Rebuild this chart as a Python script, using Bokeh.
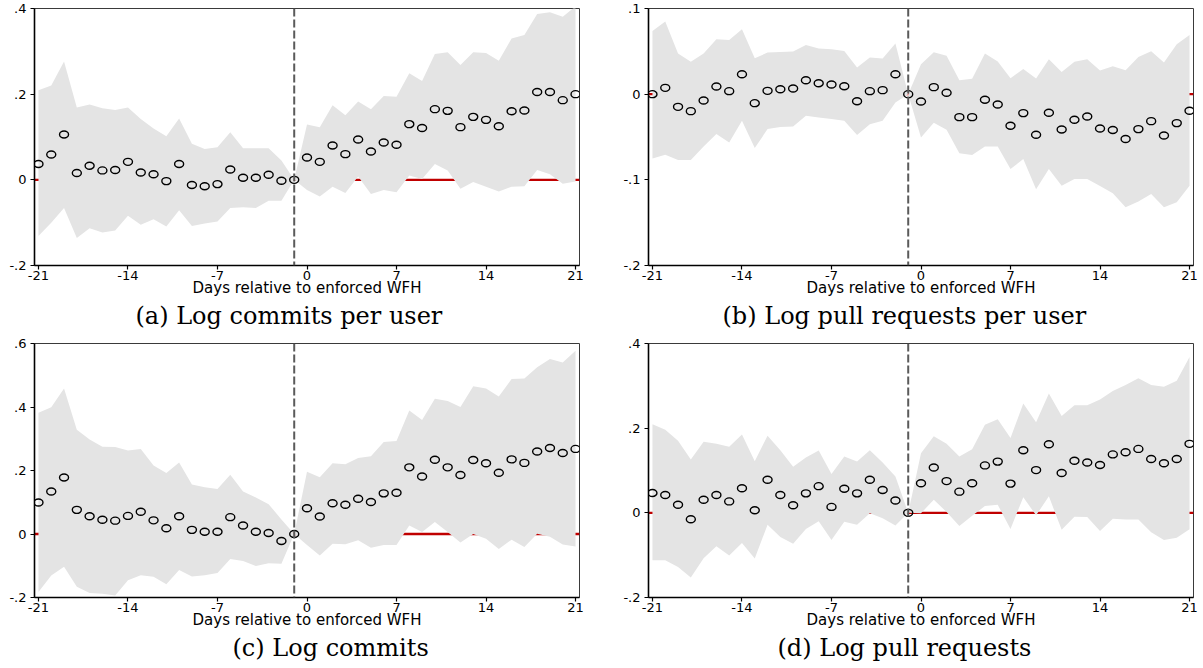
from bokeh.plotting import figure
from bokeh.layouts import gridplot
from bokeh.models import ColumnDataSource, Span, FixedTicker, Range1d, Title
from bokeh.core.properties import value
from bokeh.embed import file_html
from bokeh.resources import INLINE

days = list(range(-21, 22))
x_ticks = [-21, -14, -7, 0, 7, 14, 21]
x_labels = ["-21", "-14", "-7", "0", "7", "14", "21"]
event_day = -1

# (a) Log commits per user
a_coef = [0.037, 0.059, 0.106, 0.016, 0.033, 0.022, 0.023, 0.042, 0.017, 0.013, -0.003,
          0.037, -0.012, -0.015, -0.010, 0.024, 0.005, 0.005, 0.012, -0.002, 0.0,
          0.052, 0.042, 0.080, 0.060, 0.094, 0.066, 0.087, 0.082, 0.130, 0.121, 0.165,
          0.161, 0.123, 0.147, 0.140, 0.125, 0.160, 0.162, 0.205, 0.205, 0.186, 0.200]
a_hi = [0.209, 0.220, 0.276, 0.169, 0.176, 0.167, 0.163, 0.169, 0.142, 0.120, 0.102,
        0.143, 0.084, 0.072, 0.076, 0.111, 0.074, 0.074, 0.074, 0.045, 0.0,
        0.129, 0.123, 0.174, 0.151, 0.183, 0.165, 0.196, 0.194, 0.249, 0.231, 0.294,
        0.298, 0.268, 0.298, 0.296, 0.278, 0.330, 0.338, 0.387, 0.391, 0.381, 0.405]
a_lo = [-0.131, -0.100, -0.066, -0.136, -0.113, -0.123, -0.118, -0.084, -0.105, -0.092, -0.109,
        -0.071, -0.108, -0.102, -0.097, -0.066, -0.064, -0.066, -0.049, -0.049, 0.0,
        -0.024, -0.039, -0.016, -0.031, 0.008, -0.033, -0.024, -0.029, 0.010, 0.002, 0.037,
        0.022, -0.021, -0.005, -0.016, -0.027, -0.016, -0.015, 0.023, 0.013, -0.009, -0.004]

# (b) Log pull requests per user
b_coef = [0.0, 0.0074, -0.0148, -0.0198, -0.0074, 0.0089, 0.0035, 0.0233, -0.0105, 0.0039, 0.0058,
          0.0066, 0.0163, 0.0128, 0.0113, 0.0093, -0.0082, 0.0035, 0.0047, 0.0233, 0.0,
          -0.0085, 0.0082, 0.0016, -0.0268, -0.0268, -0.0066, -0.012, -0.0369, -0.0221, -0.0474, -0.0217,
          -0.0412, -0.0299, -0.026, -0.040, -0.0419, -0.0524, -0.0408, -0.0315, -0.0482, -0.0338, -0.0194]
b_hi = [0.0738, 0.0847, 0.0474, 0.0377, 0.0474, 0.0641, 0.0633, 0.0757, 0.0419, 0.0485, 0.0493,
        0.0497, 0.0575, 0.0532, 0.0524, 0.0505, 0.031, 0.0427, 0.0416, 0.059, 0.0,
        0.035, 0.0489, 0.0447, 0.0163, 0.0179, 0.0474, 0.0381, 0.0186, 0.0295, 0.0183, 0.0408,
        0.026, 0.0377, 0.0408, 0.0276, 0.0326, 0.028, 0.0435, 0.0501, 0.0369, 0.0583, 0.0691]
b_lo = [-0.075, -0.0707, -0.0769, -0.0769, -0.061, -0.0466, -0.0563, -0.031, -0.0629, -0.0408, -0.0384,
        -0.0377, -0.0252, -0.0272, -0.029, -0.031, -0.0478, -0.035, -0.031, -0.0097, 0.0,
        -0.0505, -0.0334, -0.0416, -0.0691, -0.0711, -0.061, -0.061, -0.0874, -0.0757, -0.111, -0.0874,
        -0.1068, -0.099, -0.099, -0.1072, -0.1157, -0.132, -0.1254, -0.1165, -0.132, -0.1262, -0.1068]

# (c) Log commits
c_coef = [0.099, 0.134, 0.178, 0.076, 0.056, 0.045, 0.042, 0.057, 0.070, 0.043, 0.018,
          0.056, 0.013, 0.007, 0.007, 0.053, 0.027, 0.007, 0.003, -0.022, 0.0,
          0.081, 0.055, 0.097, 0.092, 0.111, 0.101, 0.128, 0.130, 0.210, 0.181, 0.234,
          0.210, 0.186, 0.233, 0.223, 0.193, 0.235, 0.224, 0.260, 0.271, 0.255, 0.268]
c_hi = [0.382, 0.399, 0.458, 0.328, 0.298, 0.275, 0.274, 0.263, 0.268, 0.216, 0.192,
        0.225, 0.156, 0.147, 0.142, 0.187, 0.134, 0.115, 0.094, 0.046, 0.0,
        0.196, 0.179, 0.223, 0.220, 0.239, 0.245, 0.290, 0.293, 0.389, 0.359, 0.426,
        0.419, 0.400, 0.465, 0.458, 0.433, 0.488, 0.490, 0.525, 0.551, 0.540, 0.577]
c_lo = [-0.183, -0.131, -0.103, -0.166, -0.186, -0.188, -0.194, -0.146, -0.130, -0.135, -0.158,
        -0.113, -0.134, -0.130, -0.123, -0.079, -0.085, -0.101, -0.092, -0.094, 0.0,
        -0.035, -0.068, -0.031, -0.032, -0.020, -0.043, -0.035, -0.035, 0.027, 0.006, 0.038,
        0.006, -0.027, 0.000, -0.015, -0.047, -0.018, -0.041, 0.001, -0.009, -0.033, -0.039]

# (d) Log pull requests
d_coef = [0.047, 0.042, 0.019, -0.015, 0.031, 0.042, 0.027, 0.058, 0.006, 0.078, 0.042,
          0.018, 0.046, 0.063, 0.014, 0.057, 0.046, 0.078, 0.054, 0.029, 0.0,
          0.070, 0.107, 0.075, 0.050, 0.070, 0.112, 0.121, 0.069, 0.148, 0.101, 0.162,
          0.094, 0.123, 0.119, 0.113, 0.138, 0.143, 0.151, 0.127, 0.117, 0.127, 0.163]
d_hi = [0.209, 0.196, 0.170, 0.126, 0.168, 0.163, 0.156, 0.185, 0.122, 0.182, 0.148,
        0.109, 0.131, 0.147, 0.092, 0.133, 0.121, 0.148, 0.119, 0.086, 0.0,
        0.141, 0.181, 0.163, 0.133, 0.150, 0.208, 0.221, 0.177, 0.258, 0.214, 0.282,
        0.229, 0.254, 0.254, 0.268, 0.288, 0.302, 0.318, 0.302, 0.298, 0.312, 0.368]
d_lo = [-0.112, -0.112, -0.128, -0.153, -0.107, -0.079, -0.101, -0.071, -0.108, -0.028, -0.057,
        -0.073, -0.038, -0.020, -0.064, -0.021, -0.028, -0.001, -0.013, -0.030, 0.0,
        -0.001, 0.031, 0.002, -0.031, -0.007, 0.016, 0.019, -0.038, 0.037, -0.006, 0.039,
        -0.040, -0.009, -0.010, -0.043, -0.014, -0.016, -0.016, -0.046, -0.064, -0.059, -0.039]

ticks_a = [-0.2, 0.0, 0.2, 0.4]
labels_a = ["-.2", "0", ".2", ".4"]
ticks_b = [-0.2, -0.1, 0.0, 0.1]
labels_b = ["-.2", "-.1", "0", ".1"]
ticks_c = [-0.2, 0.0, 0.2, 0.4, 0.6]
labels_c = ["-.2", "0", ".2", ".4", ".6"]
ticks_d = [-0.2, 0.0, 0.2, 0.4]
labels_d = ["-.2", "0", ".2", ".4"]

SANS = "DejaVu Sans"
SERIF = "DejaVu Serif"


def event_panel(coef, lo, hi, yticks, ylabels, caption, width, height,
                left, right, top, bottom, cap_offset):
    src = ColumnDataSource(dict(day=days, coef=coef, lo=lo, hi=hi))
    p = figure(width=width, height=height, output_backend="svg", toolbar_location=None,
               x_range=Range1d(-21.31, 21.31), y_range=Range1d(yticks[0], yticks[-1]),
               min_border_left=left, min_border_right=right,
               min_border_top=top, min_border_bottom=bottom)
    p.background_fill_color = "white"
    p.border_fill_color = "white"
    p.xgrid.visible = False
    p.ygrid.visible = False
    p.outline_line_color = "#3a3a3a"
    p.outline_line_width = 1

    # zero reference line sits underneath the confidence band
    zero = Span(location=0, dimension="width", line_color="#c00000", line_width=2.4,
                level="underlay")
    p.add_layout(zero)

    p.varea(x="day", y1="lo", y2="hi", source=src, fill_color="#e4e4e4")

    vline = Span(location=event_day, dimension="height", line_color="#5a5a5a",
                 line_width=2, line_dash="8 3")
    p.add_layout(vline)

    p.ellipse(x="day", y="coef", width=value(9, units="screen"),
              height=value(7, units="screen"), source=src,
              fill_color=None, line_color="black", line_width=1.4)

    for ax in (p.xaxis[0], p.yaxis[0]):
        ax.axis_line_color = "black"
        ax.axis_line_width = 1.6
        ax.major_tick_line_color = "black"
        ax.major_tick_line_width = 1.2
        ax.major_tick_in = 0
        ax.major_tick_out = 4
        ax.minor_tick_line_color = None
        ax.major_label_text_font = SANS
        ax.major_label_text_font_size = "13px"
        ax.major_label_text_color = "black"

    p.xaxis.ticker = FixedTicker(ticks=x_ticks)
    p.xaxis.major_label_overrides = {t: s for t, s in zip(x_ticks, x_labels)}
    p.xaxis.major_label_standoff = 1
    p.xaxis.axis_label = "Days relative to enforced WFH"
    p.xaxis.axis_label_text_font = SANS
    p.xaxis.axis_label_text_font_size = "15px"
    p.xaxis.axis_label_text_font_style = "normal"
    p.xaxis.axis_label_text_color = "black"
    p.xaxis.axis_label_standoff = -4

    p.yaxis.ticker = FixedTicker(ticks=yticks)
    p.yaxis.major_label_overrides = {t: s for t, s in zip(yticks, ylabels)}
    p.yaxis.major_label_orientation = "horizontal"
    p.yaxis.major_label_standoff = 4

    p.add_layout(Title(text=caption, align="left", text_font=SERIF,
                       text_font_size="24px", text_font_style="normal",
                       text_color="black", standoff=0, offset=cap_offset), "below")
    return p


pa = event_panel(a_coef, a_lo, a_hi, ticks_a, labels_a, "(a) Log commits per user",
                 601, 334, 34, 22, 8, 69, 101)
pb = event_panel(b_coef, b_lo, b_hi, ticks_b, labels_b, "(b) Log pull requests per user",
                 602, 334, 47, 10, 8, 69, 74)
pc = event_panel(c_coef, c_lo, c_hi, ticks_c, labels_c, "(c) Log commits",
                 601, 334, 34, 22, 8, 70, 198)
pd = event_panel(d_coef, d_lo, d_hi, ticks_d, labels_d, "(d) Log pull requests",
                 602, 334, 47, 10, 9, 71, 129)

grid = gridplot([[pa, pb], [pc, pd]], toolbar_location=None)

open("out.html", "w").write(file_html(grid, INLINE))
